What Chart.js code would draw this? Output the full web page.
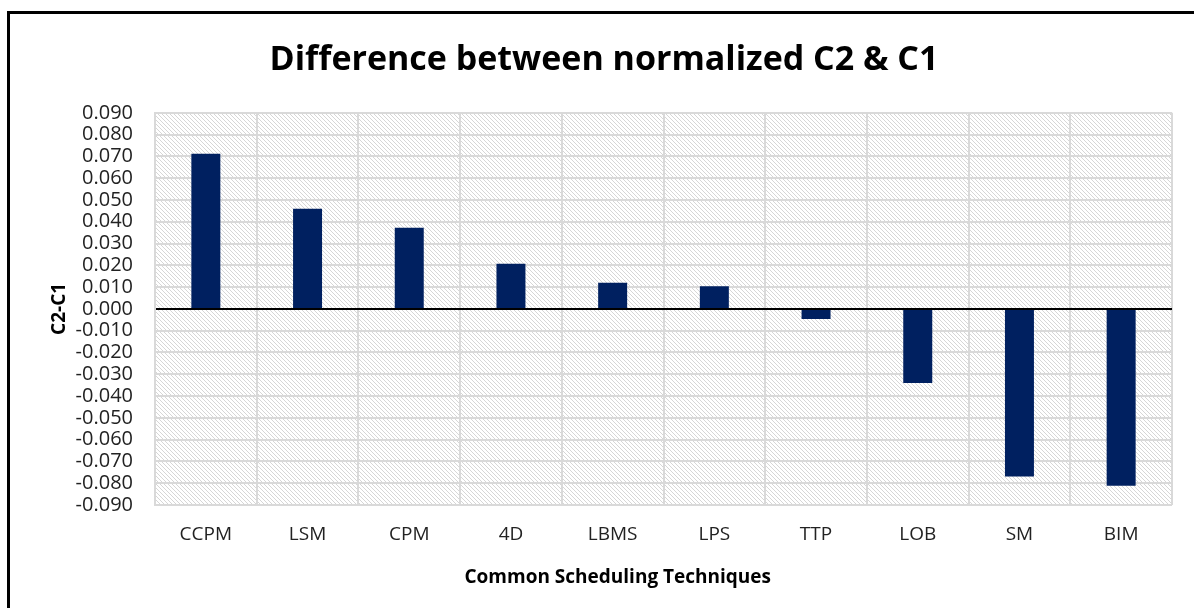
<!DOCTYPE html>
<html>
<head>
<meta charset="utf-8">
<script src="https://cdn.jsdelivr.net/npm/chart.js@4"></script>
<style>
  html, body { margin: 0; padding: 0; background: #fff; overflow: hidden; }
  #frame { position: absolute; left: 7px; top: 11px; width: 1200px; height: 620px; border: 3px solid #000; box-sizing: border-box; }
  #wrap { position: absolute; left: 0; top: 0; width: 1194px; height: 608px; }
</style>
</head>
<body>
<div id="frame"></div>
<div id="wrap"><canvas id="barChart"></canvas></div>
<script>
var techniques = ["CCPM", "LSM", "CPM", "4D", "LBMS", "LPS", "TTP", "LOB", "SM", "BIM"];
var diffValues = [0.0712, 0.0460, 0.0372, 0.0207, 0.0120, 0.0104, -0.0046, -0.0340, -0.0769, -0.0812];
var yMin = -0.09;
var yMax = 0.09;
var yStep = 0.01;

var fontName = "'Open Sans', sans-serif";
var xTitle = "Common Scheduling Techniques";

// diagonal hatch used behind the bars
function hatchPattern(ctx) {
  var tile = document.createElement("canvas");
  tile.width = 4;
  tile.height = 4;
  var t = tile.getContext("2d");
  t.fillStyle = "#ffffff";
  t.fillRect(0, 0, 4, 4);
  t.fillStyle = "#d6d6d6";
  for (var i = 0; i < 4; i++) {
    t.fillRect(i, i, 1, 1);
  }
  return ctx.createPattern(tile, "repeat");
}

var hatchBg = {
  id: "hatchBg",
  beforeDraw: function (chart) {
    var a = chart.chartArea;
    var c = chart.ctx;
    c.save();
    c.fillStyle = hatchPattern(c);
    c.fillRect(a.left, a.top, a.right - a.left, a.bottom - a.top);
    c.restore();
  }
};

// x axis title sits a bit left of the plot centre, like the excel original
var xCaption = {
  id: "xCaption",
  afterDraw: function (chart) {
    var a = chart.chartArea;
    var c = chart.ctx;
    c.save();
    c.font = "bold 19px " + fontName;
    c.fillStyle = "#000";
    c.textAlign = "center";
    c.textBaseline = "middle";
    c.fillText(xTitle, a.left + (a.right - a.left) * 0.455, a.bottom + 73);
    c.restore();
  }
};

var ctx = document.getElementById("barChart").getContext("2d");
var myChart = new Chart(ctx, {
  type: "bar",
  data: {
    labels: techniques,
    datasets: [
      {
        label: "C2-C1",
        data: diffValues,
        backgroundColor: "#002060",
        borderWidth: 0,
        categoryPercentage: 1,
        barPercentage: 0.285,
      },
    ],
  },
  options: {
    responsive: true,
    maintainAspectRatio: false,
    animation: false,
    layout: { padding: { left: 36, right: 22, top: 0, bottom: 0 } },
    plugins: {
      legend: { display: false },
      tooltip: { enabled: false },
      title: {
        display: true,
        text: "Difference between normalized C2 & C1",
        color: "#000",
        font: { family: fontName, size: 34, weight: "bold" },
        padding: { top: 40, bottom: 32 },
      },
    },
    scales: {
      x: {
        grid: { color: "#d9d9d9", lineWidth: 2, drawTicks: false },
        border: { display: false },
        ticks: {
          color: "#222",
          font: { family: fontName, size: 19 },
          padding: 18,
          maxRotation: 0,
          autoSkip: false,
        },
        afterFit: function (scale) {
          scale.height = 103;
        },
      },
      y: {
        min: yMin,
        max: yMax,
        grid: {
          drawTicks: false,
          color: function (c) {
            return c.tick && Math.abs(c.tick.value) < 1e-9 ? "#000" : "#d9d9d9";
          },
          lineWidth: 2,
        },
        border: { display: true, color: "#d9d9d9", width: 2 },
        ticks: {
          stepSize: yStep,
          autoSkip: false,
          color: "#222",
          font: { family: fontName, size: 20 },
          padding: 22,
          callback: function (v) {
            return Number(v).toFixed(3);
          },
        },
        title: {
          display: true,
          text: "C2-C1",
          color: "#000",
          font: { family: fontName, size: 19, weight: "bold" },
          padding: { top: 12, bottom: 0 },
        },
        afterFit: function (scale) {
          scale.width = 119;
        },
      },
    },
  },
  plugins: [hatchBg, xCaption],
});
</script>
</body>
</html>
